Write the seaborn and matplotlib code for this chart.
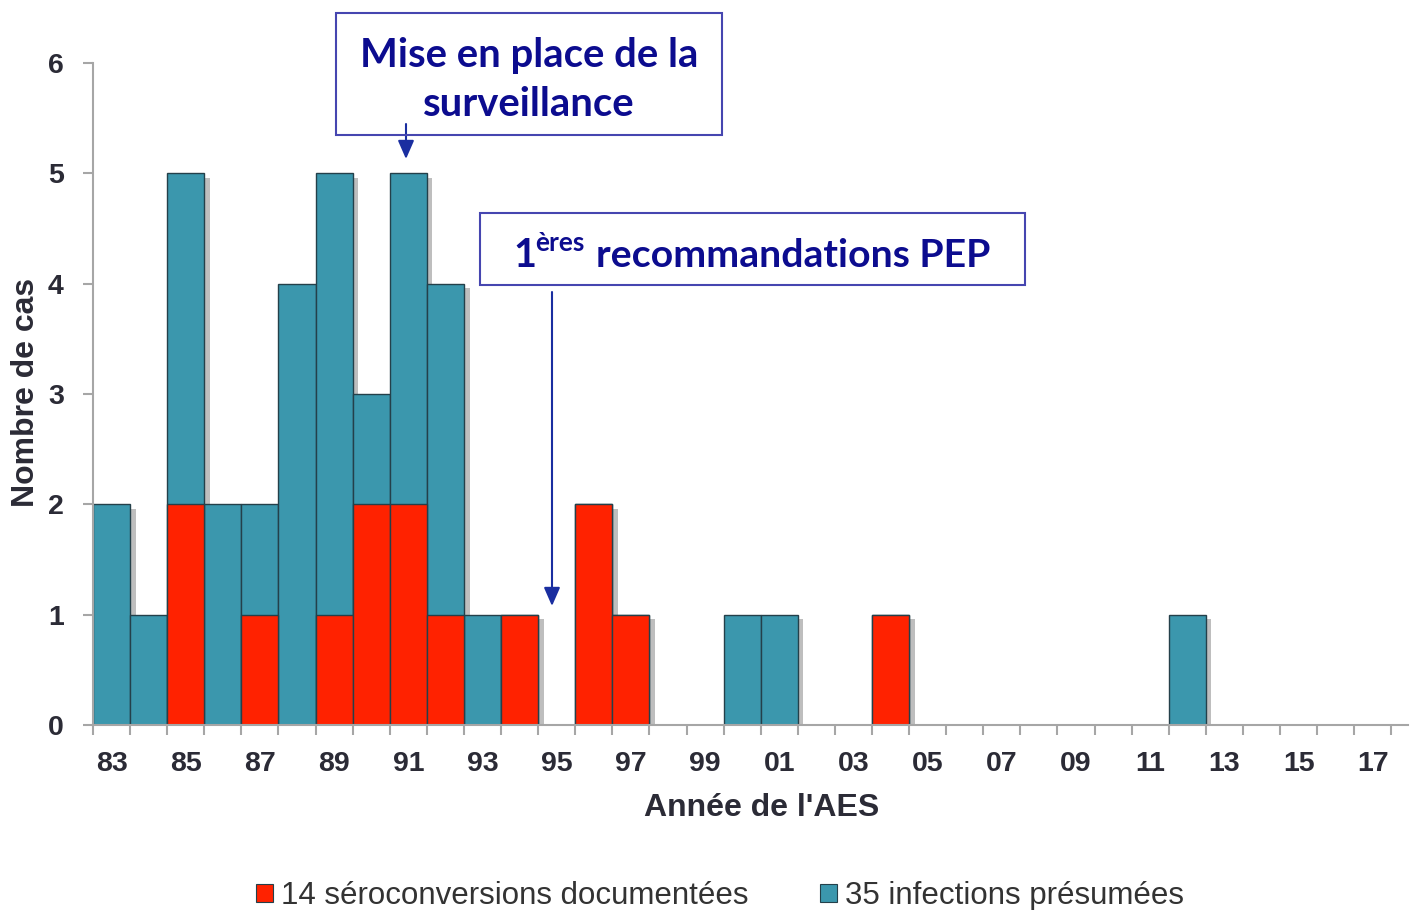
import matplotlib
matplotlib.use("Agg")
import matplotlib.pyplot as plt
import matplotlib.patheffects as pe
from matplotlib.patches import Rectangle, Patch, FancyArrowPatch
import seaborn as sns

# data (one bar per year, 1983-2017)
years = [f"{y % 100:02d}" for y in range(1983, 2018)]
documented = [0, 0, 2, 0, 1, 0, 1, 2, 2, 1, 0, 1, 0, 2, 1, 0, 0, 0,
              0, 0, 0, 1, 0, 0, 0, 0, 0, 0, 0, 0, 0, 0, 0, 0, 0]
presumed = [2, 1, 3, 2, 1, 4, 4, 1, 3, 3, 1, 0, 0, 0, 0, 0, 0, 1,
            1, 0, 0, 0, 0, 0, 0, 0, 0, 0, 0, 1, 0, 0, 0, 0, 0]
totals = [d + p for d, p in zip(documented, presumed)]
legend_labels = ["14 séroconversions documentées", "35 infections présumées"]

RED = "#ff2200"
BLUE = "#3b97ad"
EDGE = "#24404a"
AXIS_GREY = "#a6a6a6"
TEXT = "#2b2b36"
NAVY = "#0c0c8f"
BOX_EDGE = "#4646b0"

W, H = 1410, 910
sns.set_theme(style="white")
plt.rcParams["font.family"] = ["Liberation Sans", "DejaVu Sans"]

fig = plt.figure(figsize=(W / 100, H / 100), dpi=100)


def fx(px):
    return px / W


def fy(py):
    return 1 - py / H


ax = fig.add_axes([fx(93), fy(725), fx(1408) - fx(93), fy(63) - fy(725)])

shadow = [pe.SimplePatchShadow(offset=(4, -3), shadow_rgbFace="#707070", alpha=0.45), pe.Normal()]
sns.barplot(x=years, y=totals, color=BLUE, width=1.0, saturation=1,
            edgecolor=EDGE, linewidth=1.0, ax=ax)
n_first = len(ax.patches)
sns.barplot(x=years, y=documented, color=RED, width=1.0, saturation=1,
            edgecolor=EDGE, linewidth=1.0, ax=ax)
for i, p in enumerate(ax.patches):
    if p.get_height() == 0:
        p.set_visible(False)
    elif i < n_first:
        p.set_path_effects(shadow)

ax.set_xlim(-0.5, 34.95)
ax.set_ylim(0, 6)
ax.set_xlabel("")
ax.set_ylabel("")

ax.set_xticks(range(0, len(years), 2))
ax.set_xticklabels(years[::2])
ax.set_xticks([i - 0.5 for i in range(len(years) + 1)], minor=True)
ax.tick_params(axis="x", which="major", length=0, pad=19, labelsize=20.5, labelcolor=TEXT)
ax.tick_params(axis="x", which="minor", length=7, width=1.5, color=AXIS_GREY, direction="out", bottom=True)
ax.set_yticks(range(0, 7))
ax.tick_params(axis="y", length=7, width=1.5, color=AXIS_GREY, pad=14, labelsize=20.5,
               labelcolor=TEXT, left=True)
for lab in ax.get_xticklabels() + ax.get_yticklabels():
    lab.set_fontweight("bold")

for side in ["top", "right"]:
    ax.spines[side].set_visible(False)
for side in ["left", "bottom"]:
    ax.spines[side].set_color(AXIS_GREY)
    ax.spines[side].set_linewidth(1.5)

fig.text(fx(26), fy(392), "Nombre de cas", rotation=90, ha="center", va="center",
         fontsize=23, fontweight="bold", color=TEXT)
fig.text(fx(762), fy(808), "Année de l'AES", ha="center", va="center",
         fontsize=23, fontweight="bold", color=TEXT)

# annotation boxes
for (x0, y0, x1, y1) in [(336, 13, 722, 135), (480, 213, 1025, 285)]:
    fig.patches.append(Rectangle((fx(x0), fy(y1)), fx(x1) - fx(x0), fy(y0) - fy(y1),
                                 transform=fig.transFigure, fill=False,
                                 edgecolor=BOX_EDGE, linewidth=1.5))

box_font = dict(family=["Lato", "DejaVu Sans"], fontweight="bold", color=NAVY)
fig.text(fx(529), fy(55), "Mise en place de la", ha="center", va="center", fontsize=28.8, **box_font)
fig.text(fx(529), fy(105), "surveillance", ha="center", va="center", fontsize=28.8, **box_font)

fig.text(fx(513), fy(267), "1", ha="left", va="baseline", fontsize=28.5, **box_font)
fig.text(fx(535), fy(251), "ères", ha="left", va="baseline", fontsize=19, **box_font)
fig.text(fx(596), fy(267), "recommandations PEP", ha="left", va="baseline", fontsize=28.3, **box_font)

arrow_kw = dict(arrowstyle="-|>,head_length=0.8,head_width=0.35", color="#1a2ea0", lw=1.5,
                mutation_scale=14, shrinkA=0, shrinkB=0)
fig.add_artist(FancyArrowPatch((fx(406), fy(124)), (fx(406), fy(159)),
                               transform=fig.transFigure, **arrow_kw))
fig.add_artist(FancyArrowPatch((fx(552), fy(292)), (fx(552), fy(606)),
                               transform=fig.transFigure, **arrow_kw))

handles = [Patch(facecolor=RED, edgecolor=EDGE, linewidth=0.8),
           Patch(facecolor=BLUE, edgecolor=EDGE, linewidth=0.8)]
fig.legend(handles, legend_labels, loc="center", bbox_to_anchor=(fx(720), fy(896)),
           ncol=2, frameon=False, fontsize=22.5, handlelength=0.55, handleheight=0.55,
           handletextpad=0.25, columnspacing=2.3, labelcolor="#333333")

fig.savefig("out.png", dpi=100)
